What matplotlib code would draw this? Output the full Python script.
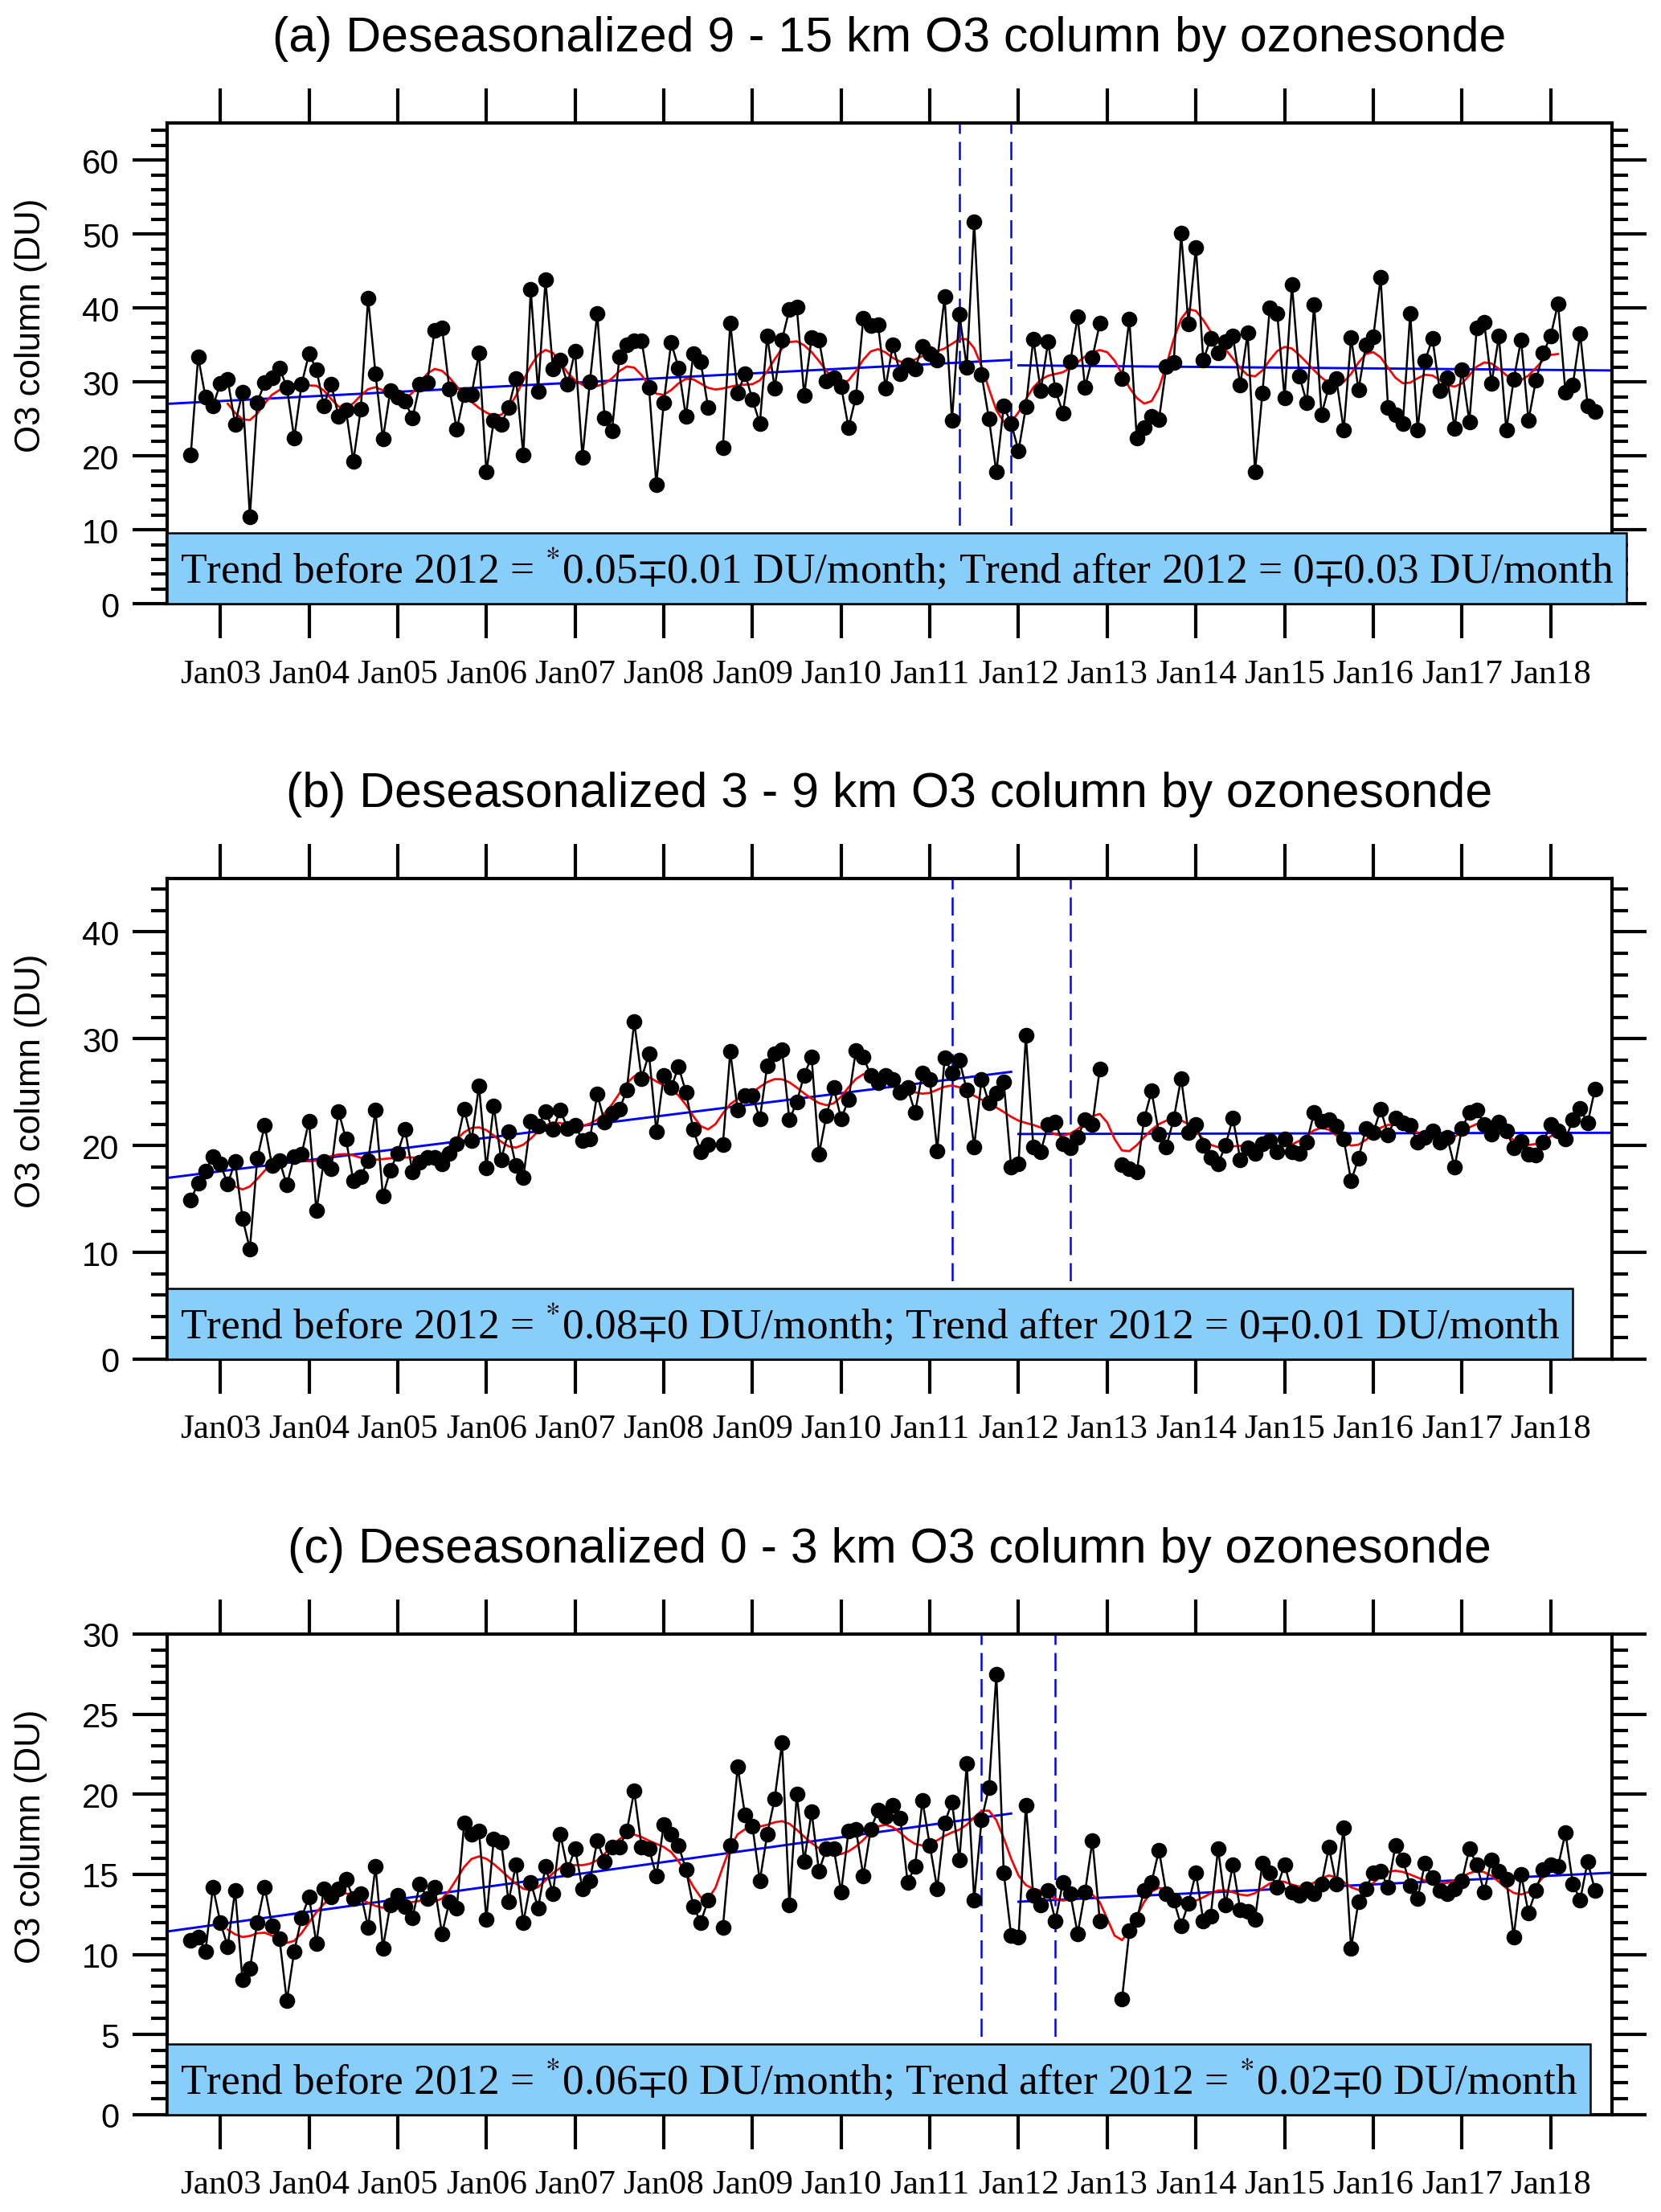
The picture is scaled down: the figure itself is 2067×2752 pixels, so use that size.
import numpy as np
import pandas as pd
import matplotlib
matplotlib.use("Agg")
import matplotlib.pyplot as plt
from matplotlib.ticker import MultipleLocator

plt.rcParams.update({
    "font.family": "Liberation Sans",
    "mathtext.fontset": "stix",
    "axes.linewidth": 1.0,
})

# monthly deseasonalized columns, Sep 2002 .. Jul 2018 (None = no sondes)
start_month = "2002-09"

upper = [  # 9 - 15 km
    20.1, 33.4, 27.9, 26.7,
    29.8, 30.3, 24.3, 28.6, 11.8, 27.2, 29.9, 30.6, 31.9, 29.3, 22.4, 29.7,
    33.8, 31.7, 26.8, 29.7, 25.3, 26.2, 19.3, 26.3, 41.3, 31.1, 22.3, 28.8,
    27.9, 27.4, 25.1, 29.7, 29.9, 37.0, 37.3, 29.0, 23.6, 28.3, 28.3, 33.9,
    17.8, 24.8, 24.3, 26.5, 30.5, 20.1, 42.5, 28.7, 43.8, 31.8, 32.9, 29.7,
    34.2, 19.8, 30.0, 39.3, 25.1, 23.4, 33.4, 35.0, 35.6, 35.6, 29.3, 16.1,
    27.2, 35.3, 31.9, 25.3, 33.8, 32.7, 26.5, None, 21.1, 38.0, 28.5, 31.1,
    27.6, 24.4, 36.2, 29.2, 35.7, 39.8, 40.1, 28.2, 36.0, 35.7, 30.1, 30.6,
    29.4, 23.8, 28.0, 38.6, 37.6, 37.7, 29.2, 35.0, 31.1, 32.3, 31.8, 34.8,
    33.8, 32.9, 41.5, 24.8, 39.2, 32.0, 51.7, 31.0, 25.0, 17.8, 26.7, 24.4,
    20.7, 26.6, 35.8, 28.8, 35.4, 28.9, 25.8, 32.7, 38.8, 29.3, 33.3, 37.9,
    None, None, 30.4, 38.5, 22.4, 23.8, 25.3, 24.9, 32.1, 32.6, 50.1, 37.8,
    48.2, 32.9, 35.9, 33.9, 35.4, 36.2, 29.6, 36.6, 17.8, 28.5, 40.0, 39.3,
    27.8, 43.2, 30.8, 27.2, 40.4, 25.6, 29.4, 30.4, 23.5, 36.0, 28.9, 35.0,
    36.1, 44.1, 26.5, 25.6, 24.4, 39.3, 23.5, 32.8, 35.9, 28.8, 30.6, 23.7,
    31.7, 24.6, 37.3, 38.1, 29.8, 36.2, 23.5, 30.3, 35.7, 24.8, 30.2, 33.9,
    36.2, 40.6, 28.6, 29.6, 36.5, 26.8, 26.0,
]

middle = [  # 3 - 9 km
    14.9, 16.5, 17.6, 19.0,
    18.3, 16.4, 18.5, 13.2, 10.3, 18.8, 21.9, 18.1, 18.6, 16.3, 19.0, 19.2,
    22.3, 13.9, 18.5, 17.8, 23.2, 20.6, 16.7, 17.1, 18.6, 23.3, 15.3, 17.7,
    19.3, 21.5, 17.5, 18.4, 18.9, 18.9, 18.3, 19.3, 20.2, 23.4, 20.5, 25.6,
    17.9, 23.7, 18.7, 21.3, 18.1, 17.0, 22.3, 21.8, 23.2, 21.5, 23.3, 21.6,
    21.9, 20.5, 20.6, 24.8, 22.2, 23.0, 23.4, 25.2, 31.6, 26.3, 28.6, 21.3,
    26.6, 25.4, 27.4, 25.0, 21.5, 19.4, 20.1, None, 20.1, 28.8, 23.3, 24.7,
    24.7, 22.5, 27.5, 28.6, 29.0, 22.4, 24.1, 26.6, 28.3, 19.2, 22.8, 25.4,
    22.5, 24.3, 28.9, 28.3, 26.6, 25.9, 26.6, 26.2, 25.0, 25.4, 23.1, 26.8,
    26.2, 19.5, 28.2, 26.8, 28.0, 25.2, 19.9, 26.2, 24.0, 24.9, 26.0, 18.0,
    18.3, 30.3, 19.9, 19.4, 22.0, 22.2, 20.2, 19.8, 20.8, 22.4, 22.0, 27.2,
    None, None, 18.2, 17.8, 17.5, 22.5, 25.1, 21.1, 19.9, 22.5, 26.3, 21.2,
    22.0, 20.0, 18.9, 18.3, 20.0, 22.6, 18.7, 19.8, 19.3, 20.2, 20.5, 19.4,
    20.6, 19.4, 19.3, 20.3, 23.1, 22.3, 22.4, 21.8, 20.6, 16.7, 18.8, 21.6,
    21.2, 23.4, 21.0, 22.6, 22.1, 21.9, 20.3, 20.8, 21.4, 20.3, 20.8, 18.0,
    21.6, 23.1, 23.3, 22.0, 21.1, 22.2, 21.4, 19.8, 20.4, 19.2, 19.1, 20.3,
    22.0, 21.4, 20.6, 22.4, 23.5, 22.1, 25.3,
]

lower = [  # 0 - 3 km
    10.9, 11.1, 10.2, 14.2,
    12.0, 10.5, 14.0, 8.4, 9.1, 12.0, 14.2, 11.8, 11.0, 7.1, 10.2, 12.3,
    13.6, 10.7, 14.1, 13.6, 14.1, 14.7, 13.5, 13.8, 11.7, 15.5, 10.4, 13.1,
    13.7, 13.0, 12.3, 14.4, 13.5, 14.2, 11.3, 13.3, 12.9, 18.2, 17.5, 17.7,
    12.2, 17.2, 17.0, 13.3, 15.6, 12.0, 14.5, 12.9, 15.5, 13.8, 17.5, 15.3,
    16.6, 14.1, 14.6, 17.1, 15.8, 16.7, 16.7, 17.7, 20.2, 16.7, 16.6, 14.9,
    18.1, 17.5, 16.8, 15.3, 13.0, 12.0, 13.4, None, 11.7, 16.8, 21.7, 18.7,
    18.0, 14.6, 17.5, 19.7, 23.2, 13.1, 20.0, 15.8, 18.9, 15.2, 16.6, 16.6,
    13.9, 17.7, 17.8, 14.9, 17.8, 19.0, 18.6, 19.3, 18.5, 14.5, 15.5, 19.6,
    16.8, 14.1, 18.2, 19.5, 15.9, 21.9, 13.4, 18.4, 20.4, 27.5, 15.1, 11.2,
    11.1, 19.3, 13.7, 13.1, 14.0, 12.1, 14.5, 13.8, 11.3, 13.9, 17.1, 12.1,
    None, None, 7.2, 11.5, 12.2, 14.0, 14.5, 16.5, 13.8, 13.4, 11.8, 13.2,
    15.1, 12.1, 12.4, 16.6, 13.1, 15.6, 12.8, 12.7, 12.2, 15.7, 15.1, 14.2,
    15.6, 13.9, 13.7, 14.1, 13.8, 14.4, 16.7, 14.4, 17.9, 10.4, 13.3, 14.1,
    15.1, 15.2, 14.2, 16.8, 15.9, 14.3, 13.5, 15.7, 14.8, 14.0, 13.8, 14.1,
    14.6, 16.6, 15.6, 13.9, 15.9, 15.2, 14.7, 11.1, 15.0, 12.6, 14.0, 15.3,
    15.6, 15.5, 17.6, 14.4, 13.4, 15.8, 14.0,
]

# break point ranges (dashed lines)
breaks_upper = ["2011-05", "2011-12"]
breaks_middle = ["2011-04", "2012-08"]
breaks_lower = ["2011-08", "2012-06"]

titles = [
    "(a) Deseasonalized 9 - 15 km O3 column by ozonesonde",
    "(b) Deseasonalized 3 - 9 km O3 column by ozonesonde",
    "(c) Deseasonalized 0 - 3 km O3 column by ozonesonde",
]
trend_texts = [
    r"Trend before 2012 = $^{*}$0.05$\mp$0.01 DU/month; Trend after 2012 = 0$\mp$0.03 DU/month",
    r"Trend before 2012 = $^{*}$0.08$\mp$0 DU/month; Trend after 2012 = 0$\mp$0.01 DU/month",
    r"Trend before 2012 = $^{*}$0.06$\mp$0 DU/month; Trend after 2012 = $^{*}$0.02$\mp$0 DU/month",
]
ylims = [65, 45, 30]
ymajor = [10, 10, 5]
yminor = [2, 2, 1]


def lanczos_weights(nwt=11, fca=0.1):
    half = nwt // 2
    k = np.arange(-half, half + 1)
    w = 2 * fca * np.sinc(2 * fca * k) * np.sinc(k / (half + 1))
    return w / w.sum()


def smooth(y, w):
    half = len(w) // 2
    out = np.full(len(y), np.nan)
    for i in range(half, len(y) - half):
        seg = y[i - half:i + half + 1]
        ok = ~np.isnan(seg)
        out[i] = np.sum(seg[ok] * w[ok]) / np.sum(w[ok])
    return out


months = pd.period_range(start_month, periods=len(upper), freq="M")
x = np.arange(len(months))
jan_idx = [i for i, p in enumerate(months) if p.month == 1]
jan_lab = ["Jan%02d" % (months[i].year % 100) for i in jan_idx]
split = (pd.Period("2012-01", "M") - months[0]).n
xmin, xmax = -3.2, 192.3
wts = lanczos_weights()

fig = plt.figure(figsize=(2067 / 300, 2753 / 300), dpi=300)
bottoms = [0.7268, 0.3854, 0.0440]
left, width, height = 0.1006, 0.8699, 0.2172

for k, (vals, brk) in enumerate(zip([upper, middle, lower],
                                    [breaks_upper, breaks_middle, breaks_lower])):
    ax = fig.add_axes([left, bottoms[k], width, height])
    y = np.array([np.nan if v is None else v for v in vals], dtype=float)

    for b in brk:
        bx = (pd.Period(b, "M") - months[0]).n
        ax.axvline(bx, color="blue", lw=0.6, dashes=(9, 4), zorder=1)

    good = ~np.isnan(y)
    pre = good & (x < split)
    post = good & (x >= split)
    p1 = np.polyfit(x[pre], y[pre], 1)
    p2 = np.polyfit(x[post], y[post], 1)
    xb = np.array([xmin, split - 1])
    xa = np.array([split, xmax])
    ax.plot(xb, np.polyval(p1, xb), color="blue", lw=0.7, zorder=2)
    ax.plot(xa, np.polyval(p2, xa), color="blue", lw=0.7, zorder=2)

    ax.plot(x, smooth(y, wts), color="red", lw=0.65, zorder=3)
    ax.plot(x, y, color="black", lw=0.6, marker="o", ms=3.7, zorder=4)

    ax.set_xlim(xmin, xmax)
    ax.set_ylim(0, ylims[k])
    ax.set_xticks(jan_idx)
    ax.set_xticklabels(jan_lab, fontfamily="Liberation Serif", fontsize=10.4)
    ax.yaxis.set_major_locator(MultipleLocator(ymajor[k]))
    ax.yaxis.set_minor_locator(MultipleLocator(yminor[k]))
    ax.tick_params(axis="x", which="major", direction="out", length=10.3, width=1.0,
                   top=True, bottom=True, labeltop=False, pad=6)
    ax.tick_params(axis="y", which="major", direction="out", length=10.3, width=1.0,
                   left=True, right=True, labelright=False, labelsize=10, pad=4)
    ax.tick_params(axis="y", which="minor", direction="out", length=4.8, width=1.0,
                   left=True, right=True)
    ax.set_ylabel("O3 column (DU)", fontsize=10.5)
    ax.yaxis.set_label_coords(-0.083, 0.58)

    ax.text(0.5, 1.15, titles[k], transform=ax.transAxes, ha="center",
            va="baseline", fontsize=14.6)

    fs = 12.8
    ax.annotate(trend_texts[k], xy=(0, 0), xycoords="axes fraction",
                xytext=(0.3 * fs, 0.3 * fs), textcoords="offset points",
                ha="left", va="bottom", fontfamily="Liberation Serif", fontsize=fs,
                bbox=dict(boxstyle="square,pad=0.3", facecolor="#87CEFA",
                          edgecolor="black", linewidth=0.6),
                zorder=10, annotation_clip=False)

fig.savefig("out.png", dpi=300)
